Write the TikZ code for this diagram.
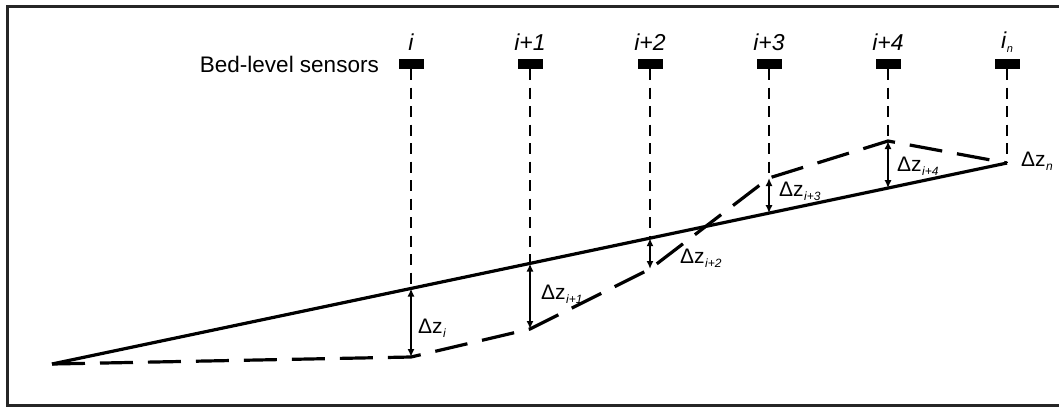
\documentclass[tikz,border=0pt]{standalone}
\usepackage{fontspec}
\setmainfont{Liberation Sans}
\usetikzlibrary{arrows.meta}
\newcommand{\dzlab}[1]{\fontsize{21}{24}\selectfont Δz\kern0.5pt\raisebox{-4pt}{\fontsize{12}{12}\selectfont\itshape #1}}
\tikzset{
  sensor/.style={fill=black, draw=none, minimum width=25pt, minimum height=10pt, inner sep=0pt},
  idx/.style={font=\fontsize{23}{26}\selectfont\itshape, inner sep=0pt},
  dz/.style={inner sep=0pt, anchor=base west},
  vdash/.style={line width=2.3pt, dash pattern=on 11pt off 7.5pt},
  bed/.style={line width=3.2pt, dash pattern=on 33pt off 15pt},
  surf/.style={line width=3.2pt},
  gap/.style={line width=1.8pt, {Latex[length=8pt,width=7pt]}-{Latex[length=8pt,width=7pt]}},
  frame/.style={line width=3pt, draw=black!85}
}
\begin{document}
\begin{tikzpicture}[x=1pt,y=-1pt]
\useasboundingbox (0,0) rectangle (1059,408);
\clip (0,0) rectangle (1059,408);
\draw[frame] (7,6) rectangle (1070,405);
% sensors
\node[sensor] (s1) at (411,64) {};
\node[sensor] (s2) at (530,64) {};
\node[sensor] (s3) at (650,64) {};
\node[sensor] (s4) at (769,64) {};
\node[sensor] (s5) at (888,64) {};
\node[sensor] (s6) at (1007,64) {};
\node[idx] (l1) at (411,42) {i};
\node[idx] (l2) at (530,42) {i+1};
\node[idx] (l3) at (650,42) {i+2};
\node[idx] (l4) at (769,42) {i+3};
\node[idx] (l5) at (888,42) {i+4};
\node[idx, anchor=base west] (l6) at (1001,48) {i\kern0.5pt\raisebox{-4pt}{\fontsize{11}{11}\selectfont n}};
\node[anchor=east, inner sep=0pt, font=\fontsize{22.5}{26}\selectfont] (bls) at (379,64) {Bed-level sensors};
% surface (solid) points
\coordinate (a0) at (52,364);
\coordinate (u1) at (411,288.5);
\coordinate (u2) at (530,263.5);
\coordinate (u3) at (650,238.2);
\coordinate (u4) at (769,213.2);
\coordinate (u5) at (888,188.2);
\coordinate (an) at (1007,163);
% bed (dashed) points
\coordinate (b1) at (411,357);
\coordinate (b2) at (530,329);
\coordinate (b3) at (650,269);
\coordinate (b4) at (769,178);
\coordinate (b5) at (888,141);
% lines
\draw[surf] (a0) -- (an);
\draw[bed, line join=miter] (a0) -- (b1) -- (b2) -- (b3) -- (b4) -- (b5) -- (an);
% vertical dashed lines
\draw[vdash] (s1.south) -- (u1);
\draw[vdash] (s2.south) -- (u2);
\draw[vdash] (s3.south) -- (u3);
\draw[vdash] (s4.south) -- (b4);
\draw[vdash] (s5.south) -- (b5);
\draw[vdash] (s6.south) -- (an);
% arrows
\draw[gap] (u1) -- (b1);
\draw[gap] (u2) -- (b2);
\draw[gap] (u3) -- (b3);
\draw[gap] (b4) -- (u4);
\draw[gap] (b5) -- (u5);
% labels
\node[dz] (d1) at (418,333) {\dzlab{i}};
\node[dz] (d2) at (541,299) {\dzlab{i+1}};
\node[dz] (d3) at (680,263) {\dzlab{i+2}};
\node[dz] (d4) at (779,196) {\dzlab{i+3}};
\node[dz] (d5) at (897,171) {\dzlab{i+4}};
\node[dz] (d6) at (1021,166) {\dzlab{n}};
\end{tikzpicture}
\end{document}
